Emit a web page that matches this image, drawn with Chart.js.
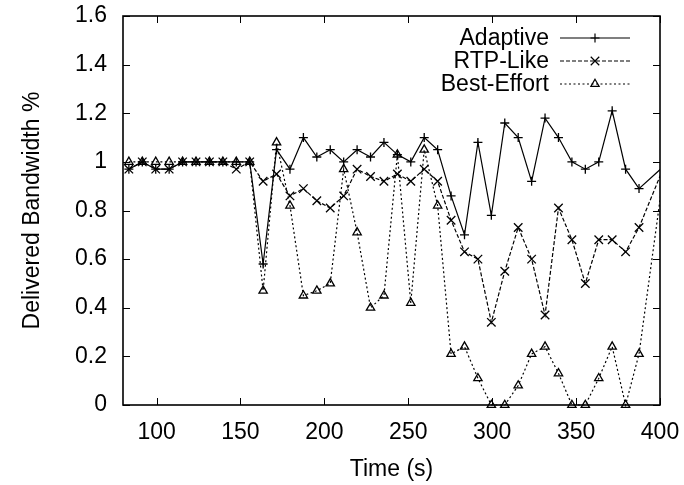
<!DOCTYPE html>
<html>
<head>
<meta charset="utf-8">
<script src="https://cdn.jsdelivr.net/npm/chart.js@4/dist/chart.umd.min.js"></script>
<style>
  html, body { margin: 0; padding: 0; background: #fff; }
  canvas { display: block; }
</style>
</head>
<body>
<canvas id="bwChart" width="684" height="485"></canvas>
<script>
// Delivered bandwidth over time for three streaming schemes.
var times = [83.5, 91.5, 99.5, 107.5, 115.5, 123.5, 131.5, 139.5, 147.5, 155.5,
             163.5, 171.5, 179.5, 187.5, 195.5, 203.5, 211.5, 219.5, 227.5, 235.5,
             243.5, 251.5, 259.5, 267.5, 275.5, 283.5, 291.5, 299.5, 307.5, 315.5,
             323.5, 331.5, 339.5, 347.5, 355.5, 363.5, 371.5, 379.5, 387.5, 403.5];

var adaptive = [0.97, 1.0, 0.97, 0.97, 1.0, 1.0, 1.0, 1.0, 1.0, 1.0,
                0.58, 1.05, 0.97, 1.10, 1.02, 1.05, 1.0, 1.05, 1.02, 1.08,
                1.03, 1.0, 1.10, 1.05, 0.86, 0.70, 1.08, 0.78, 1.16, 1.10,
                0.92, 1.18, 1.10, 1.0, 0.97, 1.0, 1.21, 0.97, 0.89, 0.99];

var rtpLike = [0.97, 1.0, 0.97, 0.97, 1.0, 1.0, 1.0, 1.0, 0.97, 1.0,
               0.92, 0.95, 0.86, 0.89, 0.84, 0.81, 0.86, 0.97, 0.94, 0.92,
               0.95, 0.92, 0.97, 0.92, 0.76, 0.63, 0.60, 0.34, 0.55, 0.73,
               0.60, 0.37, 0.81, 0.68, 0.50, 0.68, 0.68, 0.63, 0.73, 1.0];

var bestEffort = [1.0, 1.0, 1.0, 1.0, 1.0, 1.0, 1.0, 1.0, 1.0, 1.0,
                  0.47, 1.08, 0.82, 0.45, 0.47, 0.50, 0.97, 0.71, 0.40, 0.45,
                  1.03, 0.42, 1.05, 0.82, 0.21, 0.24, 0.11, 0, 0, 0.08,
                  0.21, 0.24, 0.13, 0, 0, 0.11, 0.24, 0, 0.21, 1.02];

var xTicks = [100, 150, 200, 250, 300, 350, 400];
var yTicks = [0, 0.2, 0.4, 0.6, 0.8, 1.0, 1.2, 1.4, 1.6];

var FONT = "'Liberation Sans', Arial, Helvetica, sans-serif";

function pairs(vals) {
    return times.map(function (t, i) { return { x: t, y: vals[i] }; });
}

function drawMarker(ctx, style, x, y, r) {
    ctx.beginPath();
    if (style === 'cross') {
        ctx.moveTo(x - r, y); ctx.lineTo(x + r, y);
        ctx.moveTo(x, y - r); ctx.lineTo(x, y + r);
    } else if (style === 'crossRot') {
        var d = r * Math.SQRT1_2;
        ctx.moveTo(x - d, y - d); ctx.lineTo(x + d, y + d);
        ctx.moveTo(x - d, y + d); ctx.lineTo(x + d, y - d);
    } else {
        var s = r * Math.sqrt(3) / 2;
        ctx.moveTo(x, y - r);
        ctx.lineTo(x + s, y + r / 2);
        ctx.lineTo(x - s, y + r / 2);
        ctx.closePath();
    }
    ctx.stroke();
}

// gnuplot-like frame with inward ticks on all four sides
var framePlugin = {
    id: 'frame',
    beforeDatasetsDraw: function (chart) {
        var ctx = chart.ctx, a = chart.chartArea;
        var xs = chart.scales.x, ys = chart.scales.y;
        var tl = 7;
        ctx.save();
        ctx.strokeStyle = '#000';
        ctx.lineWidth = 1;
        ctx.beginPath();
        xTicks.forEach(function (v) {
            var px = Math.round(xs.getPixelForValue(v)) + 0.5;
            ctx.moveTo(px, a.bottom); ctx.lineTo(px, a.bottom - tl);
            ctx.moveTo(px, a.top); ctx.lineTo(px, a.top + tl);
        });
        yTicks.forEach(function (v) {
            var py = Math.round(ys.getPixelForValue(v)) + 0.5;
            ctx.moveTo(a.left, py); ctx.lineTo(a.left + tl, py);
            ctx.moveTo(a.right, py); ctx.lineTo(a.right - tl, py);
        });
        ctx.stroke();
        ctx.lineWidth = 1.6;
        ctx.strokeRect(a.left, a.top, a.right - a.left, a.bottom - a.top);
        ctx.restore();
    }
};

// legend inside the plot, text right-aligned with sample to its right
var keyPlugin = {
    id: 'key',
    afterDraw: function (chart) {
        var ctx = chart.ctx;
        var textRight = 549, lineL = 560, lineR = 630, mid = 595;
        var rows = [38, 61, 84];
        ctx.save();
        ctx.font = '23px ' + FONT;
        ctx.textAlign = 'right';
        ctx.textBaseline = 'middle';
        chart.data.datasets.forEach(function (ds, i) {
            var y = rows[i];
            ctx.fillStyle = '#000';
            ctx.fillText(ds.label, textRight, y + 1);
            ctx.strokeStyle = '#000';
            ctx.lineWidth = ds.borderWidth;
            ctx.setLineDash(ds.borderDash || []);
            ctx.beginPath();
            ctx.moveTo(lineL, y); ctx.lineTo(lineR, y);
            ctx.stroke();
            ctx.setLineDash([]);
            drawMarker(ctx, ds.pointStyle, mid, y, ds.pointRadius);
        });
        ctx.restore();
    }
};

function noPad(s) {
    s.paddingLeft = 0; s.paddingRight = 0; s.paddingTop = 0; s.paddingBottom = 0;
}

var clipBox = { left: 10, top: 10, right: 0, bottom: 10 };

new Chart(document.getElementById('bwChart'), {
    type: 'line',
    data: {
        datasets: [{
            label: 'Adaptive',
            data: pairs(adaptive),
            borderColor: '#000',
            borderWidth: 1.2,
            pointStyle: 'cross',
            pointRadius: 4.5,
            pointBorderWidth: 1.3,
            pointBorderColor: '#000',
            clip: clipBox,
            tension: 0
        }, {
            label: 'RTP-Like',
            data: pairs(rtpLike),
            borderColor: '#000',
            borderWidth: 1.2,
            borderDash: [4, 2],
            pointStyle: 'crossRot',
            pointRadius: 6,
            pointBorderWidth: 1.3,
            pointBorderColor: '#000',
            clip: clipBox,
            tension: 0
        }, {
            label: 'Best-Effort',
            data: pairs(bestEffort),
            borderColor: '#000',
            borderWidth: 1.2,
            borderDash: [2, 2.5],
            pointStyle: 'triangle',
            pointRadius: 4.8,
            pointBorderWidth: 1.3,
            pointBorderColor: '#000',
            pointBackgroundColor: 'rgba(0,0,0,0)',
            clip: clipBox,
            tension: 0
        }]
    },
    options: {
        responsive: false,
        animation: false,
        devicePixelRatio: 1,
        layout: { padding: { top: 16, right: 24, left: 0, bottom: 0 } },
        plugins: {
            legend: { display: false },
            tooltip: { enabled: false }
        },
        scales: {
            x: {
                type: 'linear',
                min: 80,
                max: 400,
                afterBuildTicks: function (s) { s.ticks = xTicks.map(function (v) { return { value: v }; }); },
                afterFit: function (s) { s.height = 80; noPad(s); },
                grid: { display: false, drawTicks: false },
                border: { display: false },
                ticks: { color: '#000', font: { family: FONT, size: 23 }, padding: 14, maxRotation: 0 },
                title: { display: true, text: 'Time (s)', color: '#000', font: { family: FONT, size: 23 }, padding: { top: 0, bottom: 2 } }
            },
            y: {
                min: 0,
                max: 1.6,
                afterBuildTicks: function (s) { s.ticks = yTicks.map(function (v) { return { value: v }; }); },
                afterFit: function (s) { s.width = 123; noPad(s); },
                grid: { display: false, drawTicks: false },
                border: { display: false },
                ticks: {
                    color: '#000',
                    font: { family: FONT, size: 23 },
                    padding: 16,
                    callback: function (v) { return String(Number(v.toFixed(1))); }
                },
                title: { display: true, text: 'Delivered Bandwidth %', color: '#000', font: { family: FONT, size: 23 }, padding: { top: 19, bottom: 0 } }
            }
        }
    },
    plugins: [framePlugin, keyPlugin]
});
</script>
</body>
</html>
